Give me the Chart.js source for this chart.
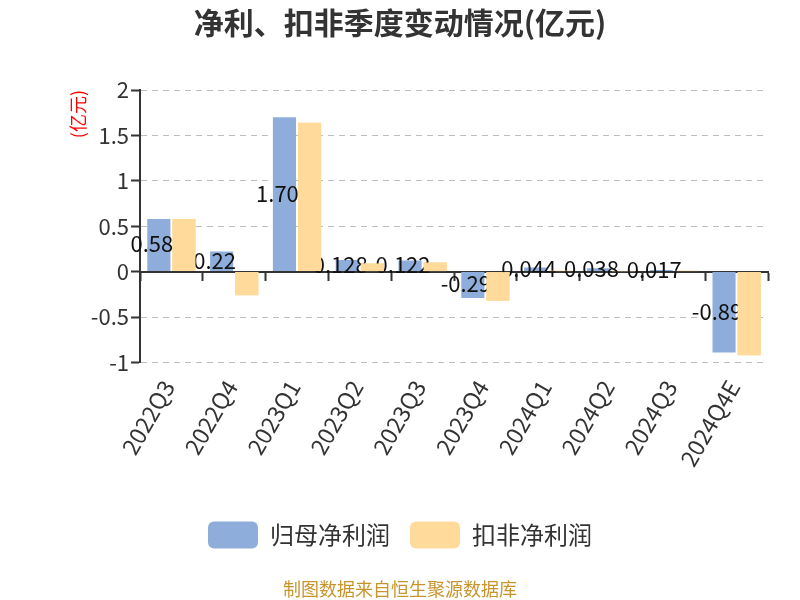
<!DOCTYPE html>
<html>
<head>
<meta charset="utf-8">
<script src="https://cdn.jsdelivr.net/npm/chart.js@4"></script>
<style>
  html, body { margin: 0; padding: 0; background: #fff; }
  #wrap { width: 800px; height: 600px; }
</style>
</head>
<body>
<div id="wrap"><canvas id="chart" width="800" height="600"></canvas></div>
<script>
// 数据
const quarters = ['2022Q3', '2022Q4', '2023Q1', '2023Q2', '2023Q3', '2023Q4', '2024Q1', '2024Q2', '2024Q3', '2024Q4E'];
const netProfit = [0.58, 0.22, 1.70, 0.128, 0.122, -0.29, 0.044, 0.038, 0.017, -0.89];
const deductedProfit = [0.58, -0.26, 1.64, 0.09, 0.10, -0.32, 0.01, 0.005, 0.01, -0.92];
const netProfitText = ['0.58', '0.22', '1.70', '0.128', '0.122', '-0.29', '0.044', '0.038', '0.017', '-0.89'];
const yTicks = [-1, -0.5, 0, 0.5, 1, 1.5, 2];

const FONT = '"Noto Sans CJK SC", "Noto Sans", sans-serif';

// 归母净利润数值标签，扣非柱子再画一遍盖在标签上面
const valueLabels = {
    id: 'valueLabels',
    afterDatasetsDraw(chart) {
        const ctx = chart.ctx;
        const meta = chart.getDatasetMeta(0);
        ctx.save();
        ctx.font = '22px ' + FONT;
        ctx.fillStyle = '#111';
        ctx.textAlign = 'center';
        ctx.textBaseline = 'middle';
        meta.data.forEach(function (bar, i) {
            ctx.fillText(netProfitText[i], bar.x - 7, (bar.y + bar.base) / 2 - 1);
        });
        ctx.restore();
        chart.getDatasetMeta(1).controller.draw();
    }
};

new Chart(document.getElementById('chart'), {
    type: 'bar',
    data: {
        labels: quarters,
        datasets: [{
            label: '归母净利润',
            data: netProfit,
            backgroundColor: '#8eadda',
            xAxisID: 'x',
            categoryPercentage: 0.8,
            barPercentage: 0.92
        }, {
            label: '扣非净利润',
            data: deductedProfit,
            backgroundColor: '#ffda9b',
            xAxisID: 'x',
            categoryPercentage: 0.8,
            barPercentage: 0.92
        }]
    },
    options: {
        responsive: false,
        animation: false,
        layout: { padding: { left: 32, right: 32, top: 0, bottom: 0 } },
        scales: {
            x: {
                type: 'category',
                position: 'bottom',
                offset: true,
                grid: { display: false, drawTicks: false },
                border: { display: false },
                ticks: {
                    autoSkip: false,
                    minRotation: 60,
                    maxRotation: 60,
                    padding: 13,
                    labelOffset: -3,
                    color: '#333',
                    font: { family: FONT, size: 23 }
                },
                afterFit(scale) { scale.height = 139; }
            },
            x0: {
                type: 'category',
                axis: 'x',
                labels: quarters,
                position: { y: 0 },
                offset: true,
                grid: {
                    offset: true,
                    drawOnChartArea: false,
                    tickLength: 8,
                    tickColor: '#333',
                    tickWidth: 2
                },
                border: { color: '#333', width: 2 },
                ticks: { display: false }
            },
            y: {
                min: -1,
                max: 2,
                afterBuildTicks(scale) {
                    scale.ticks = yTicks.map(v => ({ value: v }));
                },
                grid: {
                    color: '#bdbdbd',
                    lineWidth: 1,
                    tickLength: 9,
                    tickColor: '#333',
                    tickWidth: 2,
                    tickBorderDash: []
                },
                border: { color: '#333', width: 2, dash: [6, 5] },
                ticks: {
                    padding: 2,
                    color: '#333',
                    font: { family: FONT, size: 22 },
                    callback: v => String(v)
                },
                title: {
                    display: true,
                    text: '(亿元)',
                    align: 'end',
                    color: '#ff0000',
                    font: { family: FONT, size: 18 },
                    padding: { top: 35, bottom: 0 }
                },
                afterFit(scale) { scale.width = 108; }
            }
        },
        plugins: {
            title: {
                display: true,
                text: '净利、扣非季度变动情况(亿元)',
                color: '#333',
                font: { family: FONT, size: 30, weight: 'bold' },
                padding: { top: 5, bottom: 49 }
            },
            subtitle: {
                display: true,
                position: 'bottom',
                text: '制图数据来自恒生聚源数据库',
                color: '#c8952c',
                font: { family: FONT, size: 18 },
                padding: { top: 20, bottom: 0 }
            },
            legend: {
                position: 'bottom',
                labels: {
                    boxWidth: 50,
                    boxHeight: 27,
                    padding: 20,
                    useBorderRadius: true,
                    borderRadius: 6,
                    color: '#333',
                    font: { family: FONT, size: 24 }
                }
            },
            tooltip: { enabled: false }
        }
    },
    plugins: [valueLabels]
});
</script>
</body>
</html>
